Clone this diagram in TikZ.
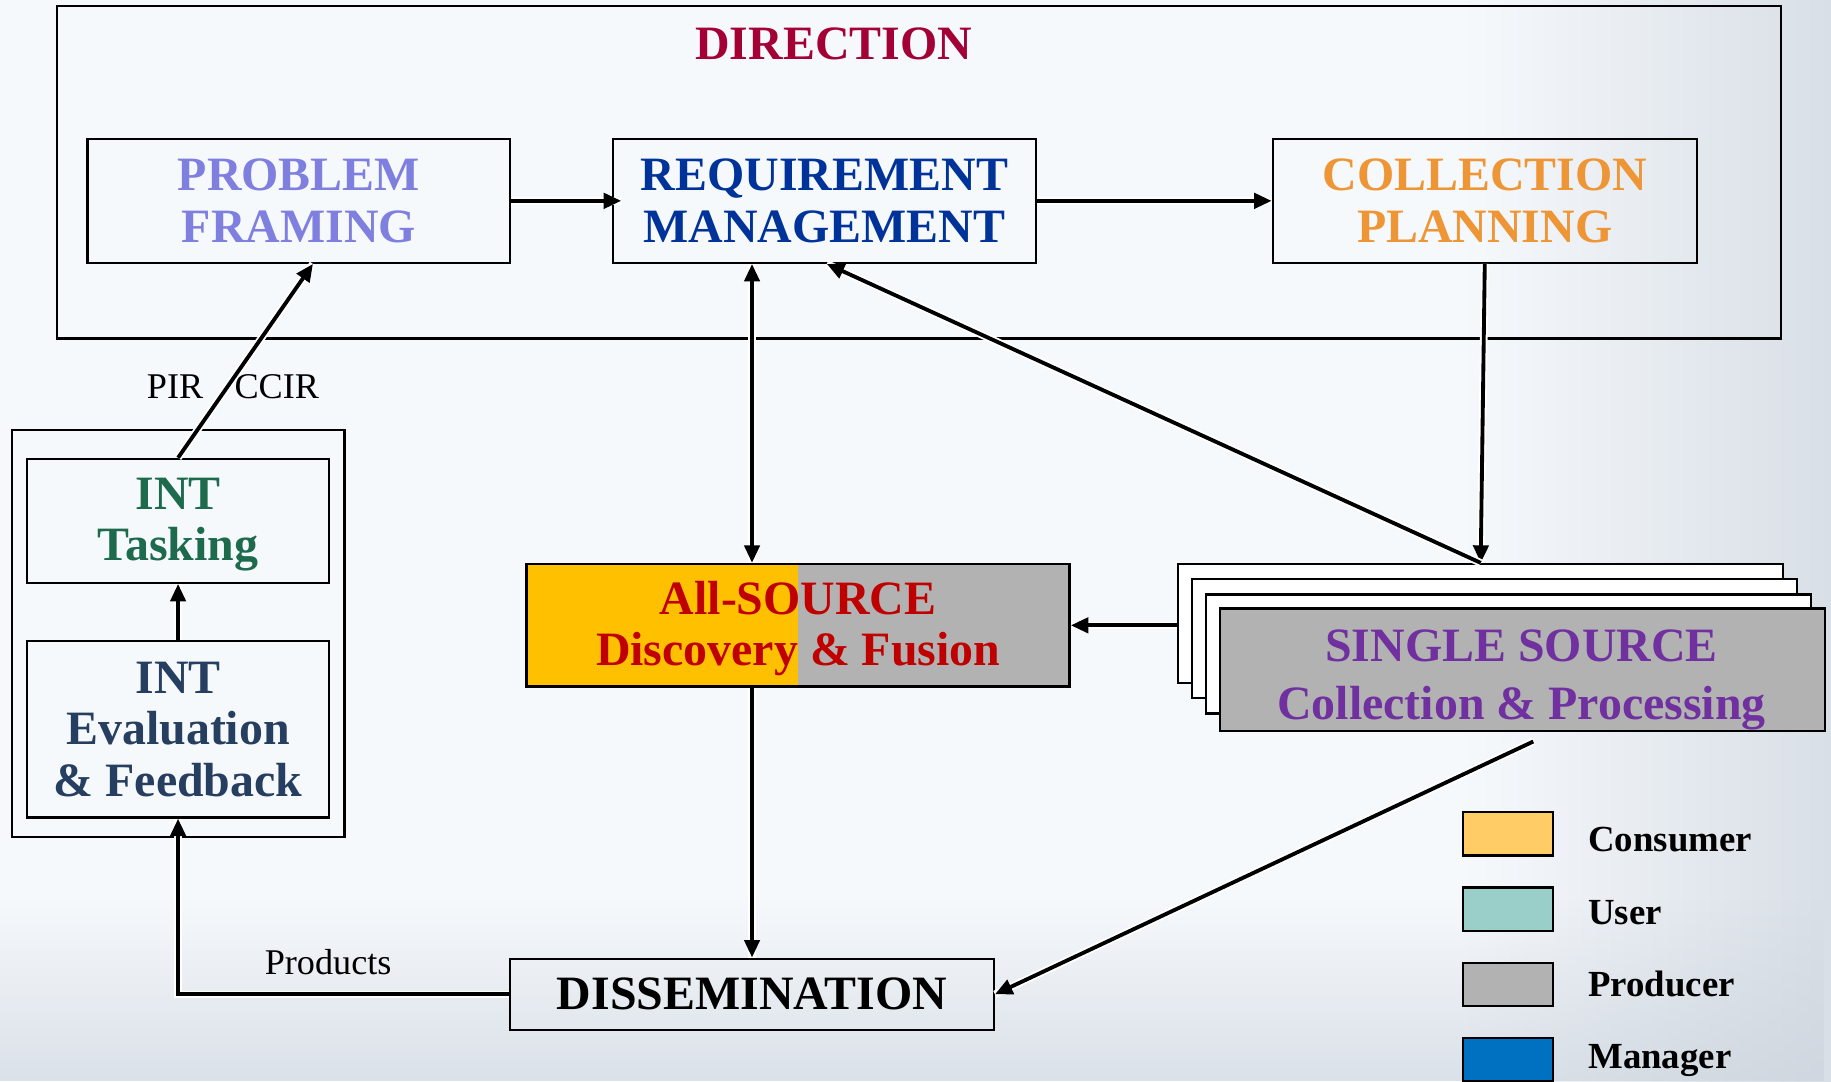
\documentclass[tikz,border=0pt]{standalone}
\usepackage{fontspec}
\setmainfont{Liberation Serif}
\usetikzlibrary{arrows.meta,fadings}

\definecolor{bgA}{HTML}{F6F9FC}
\definecolor{bgB}{HTML}{D9DFE6}
\definecolor{bgC}{HTML}{C9D1DB}
\definecolor{dirc}{HTML}{A30036}
\definecolor{probc}{HTML}{7F7FDF}
\definecolor{reqc}{HTML}{003399}
\definecolor{collc}{HTML}{EE9636}
\definecolor{taskc}{HTML}{1D6B4C}
\definecolor{evalc}{HTML}{263E5F}
\definecolor{allc}{HTML}{C00000}
\definecolor{allfill}{HTML}{FFC000}
\definecolor{prodfill}{HTML}{B2B2B2}
\definecolor{singc}{HTML}{7030A0}
\definecolor{consc}{HTML}{FFCC66}
\definecolor{userc}{HTML}{99CFC8}
\definecolor{manc}{HTML}{0070C0}

% soft darkening towards the lower edge
\tikzfading[name=lowfade, top color=transparent!100, bottom color=transparent!0]

\begin{document}
\begin{tikzpicture}[x=1pt,y=-1pt,
  box/.style={draw=black, line width=2pt, rectangle, inner sep=0pt, align=center,
    font=\bfseries\fontsize{41}{44}\selectfont},
  frame/.style={draw=black, line width=2pt, rectangle, inner sep=0pt},
  conn/.style={line width=3.3pt, preaction={draw=white, line width=6.5pt, -}},
  tip/.style={-{Triangle[length=15pt,width=13pt]}},
  bothtips/.style={{Triangle[length=15pt,width=13pt]}-{Triangle[length=15pt,width=13pt]}},
  legbox/.style={draw=black, line width=2pt, rectangle, inner sep=0pt,
    minimum width=77pt, minimum height=37pt},
  legtext/.style={anchor=base west, inner sep=0pt, font=\bfseries\fontsize{31.5}{34}\selectfont},
  lbl/.style={inner sep=0pt, font=\fontsize{31}{34}\selectfont}
]
% background
\useasboundingbox (0,0) rectangle (1568,926);
\fill[bgA] (0,0) rectangle (1568,926);
\shade[left color=bgA, right color=bgB] (1250,0) rectangle (1568,926);
\fill[bgC, fill opacity=.6, path fading=lowfade] (0,770) rectangle (1568,926);

% containers
\node[frame, minimum width=1476pt, minimum height=285pt] (DIRBOX) at (787,147.5) {};
\node[font=\bfseries\fontsize{41}{44}\selectfont, text=dirc, inner sep=0pt] (DIR) at (714,38) {DIRECTION};
\node[frame, minimum width=285pt, minimum height=349pt] (INTBOX) at (152.5,542.5) {};

% direction stage
\node[box, text=probc, minimum width=362pt, minimum height=106pt] (PF) at (256,172) {PROBLEM\\FRAMING};
\node[box, text=reqc, minimum width=362pt, minimum height=106pt] (RM) at (706,172) {REQUIREMENT\\MANAGEMENT};
\node[box, text=collc, minimum width=363pt, minimum height=106pt] (CP) at (1271.5,172) {COLLECTION\\PLANNING};

% intelligence loop
\node[box, minimum width=259pt, minimum height=106pt] (TASK) at (152.5,446) {};
\node[box, draw=none, text=taskc] (TASKT) at (152.5,449) {INT\\Tasking};
\node[box, text=evalc, minimum width=259pt, minimum height=151pt] (EVAL) at (152.5,624.5) {INT\\Evaluation\\\& Feedback};

% all-source fusion, half consumer and half producer
\fill[allfill] (451,483) rectangle (683.5,588);
\fill[prodfill] (683.5,483) rectangle (916,588);
\node[box, text=allc, minimum width=465pt, minimum height=105pt] (AS) at (683.5,535.5) {};
\node[box, draw=none, text=allc] (AST) at (683.5,538) {All-SOURCE\\Discovery \& Fusion};

% single source stack
\node[box, fill=white, minimum width=518pt, minimum height=102pt] (S1) at (1268,534) {};
\node[box, fill=white, minimum width=518pt, minimum height=102pt] (S2) at (1280,547) {};
\node[box, fill=white, minimum width=518pt, minimum height=102pt] (S3) at (1292,560) {};
\node[box, fill=prodfill, minimum width=518pt, minimum height=105pt] (SS) at (1304,573.5) {};
\node[box, draw=none, text=singc] (SST) at (1303,582) {SINGLE SOURCE\\[6pt]Collection \& Processing};

% dissemination
\node[box, text=black, minimum width=414pt, minimum height=61pt] (D) at (644,851.5) {DISSEMINATION};

% connectors
\draw[conn, tip] (PF.east) -- ([xshift=8pt]RM.west);
\draw[conn, tip] (RM.east) -- (CP.west);
\draw[conn, bothtips] (RM.south -| D.north) -- (AS.north -| D.north);
\draw[conn, tip] (AS.south -| D.north) -- (D.north);
\draw[conn, tip] (CP.south) -- (S1.north);
\draw[conn, tip] (S1.north) -- ([xshift=2pt]RM.south);
\draw[conn, tip] (S1.west |- AS.east) -- (AS.east);
\draw[conn, tip] ([xshift=9pt,yshift=-8pt]SS.south) -- (D.east);
\draw[conn, tip] (TASK.north) -- ([xshift=12pt]PF.south);
\draw[conn, tip] (EVAL.north) -- (TASK.south);
\draw[conn, tip] (D.west) -- (EVAL.south |- D.west) -- (EVAL.south);

% connector labels
\node[lbl] (PIR) at (150,331) {PIR};
\node[lbl] (CCIR) at (237,331) {CCIR};
\node[lbl] (PRODLBL) at (281,824) {Products};

% legend
\node[legbox, fill=consc] (L1) at (1291.5,714) {};
\node[legbox, fill=userc] (L2) at (1291.5,778.5) {};
\node[legbox, fill=prodfill] (L3) at (1291.5,843) {};
\node[legbox, fill=manc] (L4) at (1291.5,907.5) {};
\node[legtext] (T1) at (1360,729) {Consumer};
\node[legtext] (T2) at (1360,792) {User};
\node[legtext] (T3) at (1360,853) {Producer};
\node[legtext] (T4) at (1360,915) {Manager};
\end{tikzpicture}
\end{document}
